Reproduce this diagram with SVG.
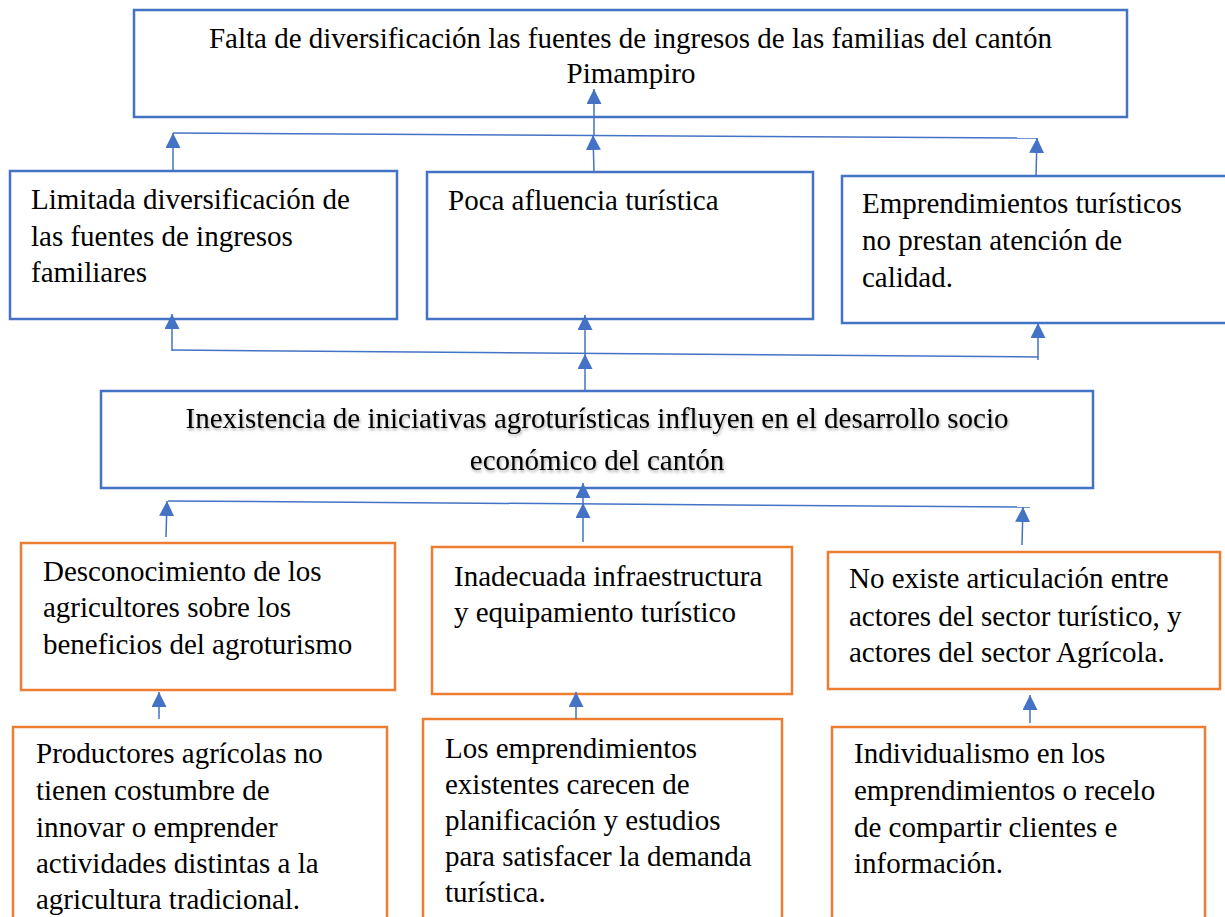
<svg xmlns="http://www.w3.org/2000/svg" width="1225" height="917" viewBox="0 0 1225 917">
<defs>
<style>
.bx{fill:#fff;stroke:#4472C4;stroke-width:2.5}
.ox{fill:#fff;stroke:#ED7D31;stroke-width:2.5}
.t{font-family:"Liberation Serif","Times New Roman",serif;font-size:29px;fill:#000}
.c{text-anchor:middle}
.ln{stroke:#4472C4;stroke-width:1.5;fill:none}
.ar{stroke:#4472C4;stroke-width:1.5;fill:none;marker-end:url(#ah)}
</style>
<marker id="ah" viewBox="0 0 10 10" refX="10" refY="5" markerWidth="15" markerHeight="15" markerUnits="userSpaceOnUse" orient="auto">
<path d="M0,0 L10,5 L0,10 z" fill="#4472C4"/>
</marker>
<filter id="sh" x="-5%" y="-20%" width="110%" height="150%">
<feDropShadow dx="1" dy="2" stdDeviation="1.5" flood-color="#000" flood-opacity="0.35"/>
</filter>
</defs>

<g id="top">
<rect class="bx" x="134" y="10" width="993" height="107"/>
<text class="t c" x="630.5" y="48">Falta de diversificación las fuentes de ingresos de las familias del cantón</text>
<text class="t c" x="631" y="83">Pimampiro</text>
</g>

<g id="boxA">
<rect class="bx" x="10" y="171" width="387" height="148"/>
<text class="t" x="31" y="209">Limitada diversificación de</text>
<text class="t" x="31" y="246">las fuentes de ingresos</text>
<text class="t" x="31" y="282">familiares</text>
</g>

<g id="boxB">
<rect class="bx" x="427" y="172" width="386" height="147"/>
<text class="t" x="448" y="210">Poca afluencia turística</text>
</g>

<g id="boxC">
<rect class="bx" x="842" y="176" width="386" height="147"/>
<text class="t" x="862" y="213">Emprendimientos turísticos</text>
<text class="t" x="862" y="250">no prestan atención de</text>
<text class="t" x="862" y="287">calidad.</text>
</g>

<g id="middle">
<rect class="bx" x="101" y="391" width="992" height="97"/>
<g filter="url(#sh)">
<text class="t c" x="597" y="428">Inexistencia de iniciativas agroturísticas influyen en el desarrollo socio</text>
<text class="t c" x="597" y="470">económico del cantón</text>
</g>
</g>

<g id="boxD">
<rect class="ox" x="21" y="543" width="374" height="147"/>
<text class="t" x="43" y="581">Desconocimiento de los</text>
<text class="t" x="43" y="617">agricultores sobre los</text>
<text class="t" x="43" y="654">beneficios del agroturismo</text>
</g>

<g id="boxE">
<rect class="ox" x="432" y="547" width="360" height="147"/>
<text class="t" x="454" y="586">Inadecuada infraestructura</text>
<text class="t" x="454" y="622">y equipamiento turístico</text>
</g>

<g id="boxF">
<rect class="ox" x="828" y="552" width="392" height="137"/>
<text class="t" x="849" y="588">No existe articulación entre</text>
<text class="t" x="849" y="626">actores del sector turístico, y</text>
<text class="t" x="849" y="662">actores del sector Agrícola.</text>
</g>

<g id="boxG">
<rect class="ox" x="13" y="727" width="374" height="210"/>
<text class="t" x="36" y="763">Productores agrícolas no</text>
<text class="t" x="36" y="800">tienen costumbre de</text>
<text class="t" x="36" y="837">innovar o emprender</text>
<text class="t" x="36" y="873">actividades distintas a la</text>
<text class="t" x="36" y="909">agricultura tradicional.</text>
</g>

<g id="boxH">
<rect class="ox" x="423" y="719" width="359" height="220"/>
<text class="t" x="445" y="758">Los emprendimientos</text>
<text class="t" x="445" y="794">existentes carecen de</text>
<text class="t" x="445" y="830">planificación y estudios</text>
<text class="t" x="445" y="866">para satisfacer la demanda</text>
<text class="t" x="445" y="902">turística.</text>
</g>

<g id="boxI">
<rect class="ox" x="832" y="727" width="373" height="210"/>
<text class="t" x="854" y="763">Individualismo en los</text>
<text class="t" x="854" y="800">emprendimientos o recelo</text>
<text class="t" x="854" y="837">de compartir clientes e</text>
<text class="t" x="854" y="873">información.</text>
</g>

<g id="connectors">
<line class="ln" x1="173" y1="133" x2="1037" y2="138"/>
<line class="ar" x1="173" y1="171" x2="173" y2="133"/>
<line class="ar" x1="594" y1="172" x2="593" y2="135"/>
<line class="ar" x1="1036" y1="176" x2="1037" y2="138"/>
<line class="ar" x1="594" y1="135" x2="594" y2="89"/>

<line class="ln" x1="172" y1="350" x2="1038" y2="357"/>
<line class="ar" x1="585" y1="391" x2="585" y2="354"/>
<line class="ar" x1="172" y1="351" x2="172" y2="314"/>
<line class="ar" x1="585" y1="354" x2="585" y2="315"/>
<line class="ar" x1="1038" y1="360" x2="1038" y2="323"/>

<line class="ln" x1="168" y1="501" x2="1030" y2="507"/>
<line class="ar" x1="166" y1="537" x2="167" y2="501"/>
<line class="ar" x1="583" y1="542" x2="583" y2="503"/>
<line class="ar" x1="1022" y1="545" x2="1023" y2="507"/>
<line class="ar" x1="583" y1="503" x2="583" y2="483"/>

<line class="ar" x1="159" y1="719" x2="159" y2="692"/>
<line class="ar" x1="576" y1="719" x2="576" y2="692"/>
<line class="ar" x1="1030" y1="723" x2="1030" y2="695"/>
</g>
</svg>
